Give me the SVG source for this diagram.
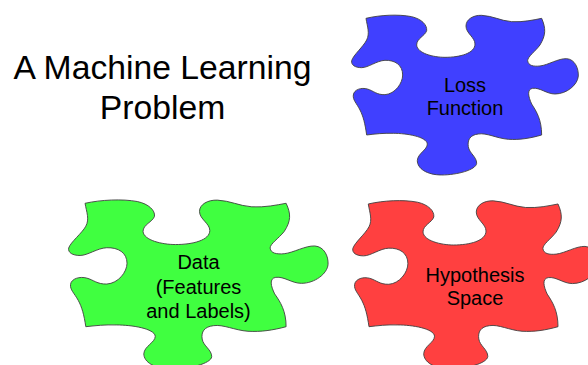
<svg xmlns="http://www.w3.org/2000/svg" xmlns:xlink="http://www.w3.org/1999/xlink" width="588" height="365" viewBox="0 0 588 365">
<style>
text{font-family:"Liberation Sans",Arial,sans-serif;fill:#000;text-anchor:middle;font-size:20px}
.title{font-size:33.7px}
.piece{stroke:#404040;stroke-width:.9;vector-effect:non-scaling-stroke}
</style>
<defs>
<path id="piece" class="piece" d="M78 55C120 45 175 42 215 50C245 57 262 75 260 92C255 108 230 115 230 135C232 160 280 172 315 172C360 172 405 160 405 132C405 112 378 100 378 78C378 58 400 45 425 46C460 48 480 62 515 65C550 67 580 60 605 55C618 85 618 105 600 135C585 155 563 170 563 182C565 197 580 200 600 198C625 195 655 175 680 176C705 178 716 205 715 228C713 255 680 282 645 282C620 282 600 262 578 265C560 268 565 290 575 312C590 335 605 360 605 405C570 415 540 420 505 418C470 415 440 398 415 402C390 405 382 420 385 440C388 460 410 470 410 490C408 510 350 525 305 525C260 525 232 505 232 482C233 460 262 450 262 432C260 410 200 400 160 400C130 399 105 402 80 405C75 370 70 350 60 330C50 310 38 300 40 285C42 268 65 262 82 267C100 272 110 285 135 284C165 282 188 250 188 225C188 195 165 180 135 181C110 182 85 203 65 203C45 203 33 195 35 182C40 165 70 140 80 120C90 100 82 80 78 55Z"/>
</defs>
<rect width="588" height="365" fill="#fff"/>
<g id="title"><text class="title" x="162.500" y="78.500">A Machine Learning</text><text class="title" x="162.500" y="118.500">Problem</text></g>
<g id="loss"><use xlink:href="#piece" href="#piece" fill="#4040ff" transform="matrix(.3333 0 0 .3333 340 0)"/><text x="465" y="92">Loss</text><text x="465" y="115">Function</text></g>
<g id="data"><use xlink:href="#piece" href="#piece" fill="#40ff40" transform="matrix(.3815 0 0 .3526 55.300 183.900)"/><text x="198.500" y="269">Data</text><text x="198.500" y="294">(Features</text><text x="198.500" y="318">and Labels)</text></g>
<g id="hypothesis"><use xlink:href="#piece" href="#piece" fill="#ff4040" transform="matrix(.36 0 0 .3506 340.200 184.700)"/><text x="475" y="282">Hypothesis</text><text x="475" y="305">Space</text></g>
<g id="connectors"/>
</svg>
